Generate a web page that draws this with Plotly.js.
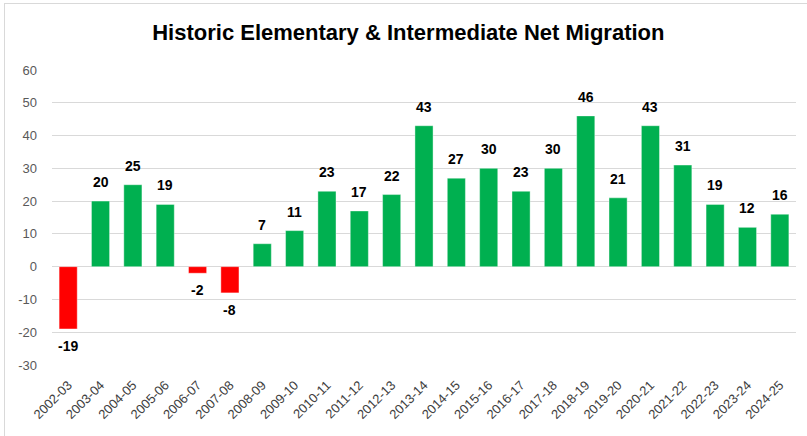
<!DOCTYPE html>
<html>
<head>
<meta charset="utf-8">
<script src="https://cdn.plot.ly/plotly-3.0.1.min.js"></script>
<style>
html,body{margin:0;padding:0;background:#fff;}
#wrap{position:relative;width:807px;height:436px;}
#chart{width:807px;height:436px;}
#frame{position:absolute;left:4px;top:3px;width:803px;height:433px;border-left:1px solid #d9d9d9;border-top:1px solid #d9d9d9;pointer-events:none;box-sizing:border-box;}
</style>
</head>
<body>
<div id="wrap"><div id="chart"></div><div id="frame"></div></div>
<script>
const years = ["2002-03","2003-04","2004-05","2005-06","2006-07","2007-08","2008-09","2009-10","2010-11","2011-12","2012-13","2013-14","2014-15","2015-16","2016-17","2017-18","2018-19","2019-20","2020-21","2021-22","2022-23","2023-24","2024-25"];
const netMigration = [-19,20,25,19,-2,-8,7,11,23,17,22,43,27,30,23,30,46,21,43,31,19,12,16];
const yTicks = [-30,-20,-10,0,10,20,30,40,50,60];

const colors = netMigration.map(v => v < 0 ? "#FF0000" : "#00B050");

const trace = {
  type: "bar",
  x: years,
  y: netMigration,
  marker: {color: colors, line: {color: "rgba(255,255,255,0.4)", width: 1}},
  hoverinfo: "x+y"
};

const labels = years.map((yr, i) => ({
  x: yr, y: netMigration[i], xref: "x", yref: "y",
  text: "<b>" + netMigration[i] + "</b>",
  showarrow: false,
  yanchor: netMigration[i] < 0 ? "top" : "bottom",
  yshift: netMigration[i] < 0 ? -7 : 9,
  font: {family: "Liberation Sans, Arial, sans-serif", size: 14, color: "#000"}
}));

const layout = {
  width: 807, height: 436,
  margin: {l: 52, r: 11, t: 70, b: 71},
  paper_bgcolor: "#fff", plot_bgcolor: "#fff",
  title: {text: "<b>Historic Elementary &amp; Intermediate Net Migration</b>", x: 0.506, xref: "container", y: 0.925, yref: "container", yanchor: "middle",
          font: {family: "Liberation Sans, Arial, sans-serif", size: 22, color: "#000"}},
  bargap: 0.44,
  showlegend: false,
  annotations: labels,
  xaxis: {
    type: "category", tickangle: -45,
    tickfont: {family: "Liberation Sans, Arial, sans-serif", size: 13, color: "#404040"},
    showgrid: false, zeroline: false, showline: false, ticks: "", ticklabelstandoff: 9
  },
  yaxis: {
    range: [-30, 60], tickvals: yTicks, ticktext: yTicks.map(String),
    tickfont: {family: "Liberation Sans, Arial, sans-serif", size: 13, color: "#595959"},
    showgrid: true, gridcolor: "#d9d9d9", gridwidth: 1,
    zeroline: true, zerolinecolor: "#d9d9d9", zerolinewidth: 1,
    showline: false, ticks: "", ticklabelstandoff: 14
  }
};

Plotly.newPlot("chart", [trace], layout, {displayModeBar: false, staticPlot: true});
</script>
</body>
</html>
